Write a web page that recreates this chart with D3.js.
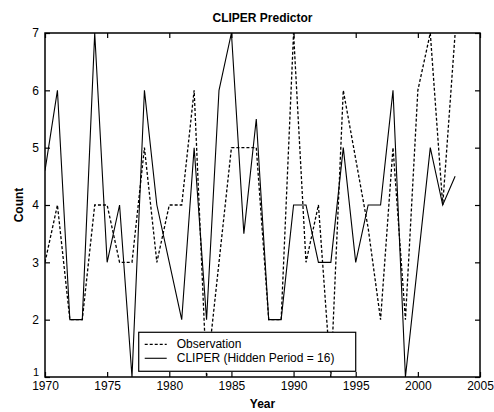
<!DOCTYPE html>
<html>
<head>
<meta charset="utf-8">
<script src="https://cdn.jsdelivr.net/npm/d3@7"></script>
<style>
    body { margin: 0; background: #fff; }
    text { font-family: "Liberation Sans", Arial, sans-serif; fill: #000; }
</style>
</head>
<body>
<div id="chart"></div>
<script>
var years = d3.range(1970, 2004);

var observation = [3, 4, 2, 2, 4, 4, 3, 3, 5, 3,
    4, 4, 6, 1, 3, 5, 5, 5, 2, 2,
    7, 3, 4, 1, 6, 4.8, 3.6, 2, 5, 2,
    6, 7, 4, 7];

var cliper = [4.6, 6, 2, 2, 7, 3, 4, 1, 6, 4,
    3, 2, 5, 2, 6, 7, 3.5, 5.5, 2, 2,
    4, 4, 3, 3, 5, 3, 4, 4, 6, 1,
    3, 5, 4, 4.5];

var xTicks = [1970, 1975, 1980, 1985, 1990, 1995, 2000, 2005];
var yTicks = [1, 2, 3, 4, 5, 6, 7];

var seriesNames = ["Observation", "CLIPER (Hidden Period = 16)"];

var width = 494;
var height = 412;

var margin = {
    top: 33,
    bottom: 35,
    left: 45,
    right: 14,
};

var innerW = width - margin.left - margin.right;
var innerH = height - margin.top - margin.bottom;

var svg = d3.select("#chart")
    .append("svg")
    .attr("width", width)
    .attr("height", height);

var g = svg.append("g")
    .attr("transform", "translate(" + margin.left + "," + margin.top + ")");

var xScale = d3.scaleLinear()
    .domain([1970, 2005])
    .range([0, innerW]);

var yScale = d3.scaleLinear()
    .domain([1, 7])
    .range([innerH, 0]);

// clip so the lines don't spill over the frame
g.append("clipPath")
    .attr("id", "plotclip")
    .append("rect")
    .attr("width", innerW)
    .attr("height", innerH);

// axes, matlab style: ticks inward on all four sides
function styleAxis(sel) {
    sel.select(".domain").remove();
    sel.selectAll(".tick line").attr("stroke", "#000").attr("stroke-width", 1.2);
    sel.selectAll(".tick text")
        .attr("font-size", "12px")
        .style("font-family", "'Liberation Sans', Arial, sans-serif");
}

g.append("g")
    .attr("transform", "translate(0," + innerH + ")")
    .call(d3.axisBottom(xScale).tickValues(xTicks).tickFormat(d3.format("d")).tickSize(-5).tickPadding(4))
    .call(styleAxis);

g.append("g")
    .call(d3.axisTop(xScale).tickValues(xTicks).tickSize(-5).tickFormat(""))
    .call(styleAxis);

var yAxisG = g.append("g")
    .call(d3.axisLeft(yScale).tickValues(yTicks).tickFormat(d3.format("d")).tickSize(-5).tickPadding(6))
    .call(styleAxis);

// the lowest label sits a bit higher, clear of the year labels
yAxisG.selectAll(".tick text")
    .filter(function(d) {
        return d == 1;
    })
    .attr("y", -5)
    .attr("font-size", "11px");

g.append("g")
    .attr("transform", "translate(" + innerW + ",0)")
    .call(d3.axisRight(yScale).tickValues(yTicks).tickSize(-5).tickFormat(""))
    .call(styleAxis);

var line = d3.line()
    .x(function(d) {
        return xScale(d.year);
    })
    .y(function(d) {
        return yScale(d.value);
    });

var obsData = years.map(function(y, i) {
    return { year: y, value: observation[i] };
});
var cliperData = years.map(function(y, i) {
    return { year: y, value: cliper[i] };
});

var lines = g.append("g")
    .attr("clip-path", "url(#plotclip)");

lines.append("path")
    .datum(obsData)
    .attr("d", line)
    .attr("fill", "none")
    .attr("stroke", "#000")
    .attr("stroke-width", 1.3)
    .attr("stroke-dasharray", "3,2");

lines.append("path")
    .datum(cliperData)
    .attr("d", line)
    .attr("fill", "none")
    .attr("stroke", "#000")
    .attr("stroke-width", 1.1);

// frame
g.append("rect")
    .attr("width", innerW)
    .attr("height", innerH)
    .attr("fill", "none")
    .attr("stroke", "#000")
    .attr("stroke-width", 1.5);

// legend
var legend = g.append("g")
    .attr("transform", "translate(" + (xScale(1977.5) + 0.5) + "," + (yScale(1.78)) + ")");

legend.append("rect")
    .attr("width", 217)
    .attr("height", 39)
    .attr("fill", "#fff")
    .attr("stroke", "#000")
    .attr("stroke-width", 1.2);

seriesNames.forEach(function(name, i) {
    var row = legend.append("g")
        .attr("transform", "translate(0," + (12 + i * 14) + ")");
    row.append("line")
        .attr("x1", 6)
        .attr("x2", 28)
        .attr("y1", 0)
        .attr("y2", 0)
        .attr("stroke", "#000")
        .attr("stroke-width", i == 0 ? 1.3 : 1.1)
        .attr("stroke-dasharray", i == 0 ? "3,2" : null);
    row.append("text")
        .attr("x", 38)
        .attr("dy", "0.35em")
        .attr("font-size", "12px")
        .text(name);
});

// titles
svg.append("text")
    .attr("x", margin.left + innerW / 2)
    .attr("y", 22)
    .attr("text-anchor", "middle")
    .attr("font-size", "12px")
    .attr("font-weight", "bold")
    .text("CLIPER Predictor");

svg.append("text")
    .attr("x", margin.left + innerW / 2)
    .attr("y", 408)
    .attr("text-anchor", "middle")
    .attr("font-size", "12px")
    .attr("font-weight", "bold")
    .text("Year");

svg.append("text")
    .attr("transform", "translate(23," + (margin.top + innerH / 2) + ") rotate(-90)")
    .attr("text-anchor", "middle")
    .attr("font-size", "12px")
    .attr("font-weight", "bold")
    .text("Count");
</script>
</body>
</html>
